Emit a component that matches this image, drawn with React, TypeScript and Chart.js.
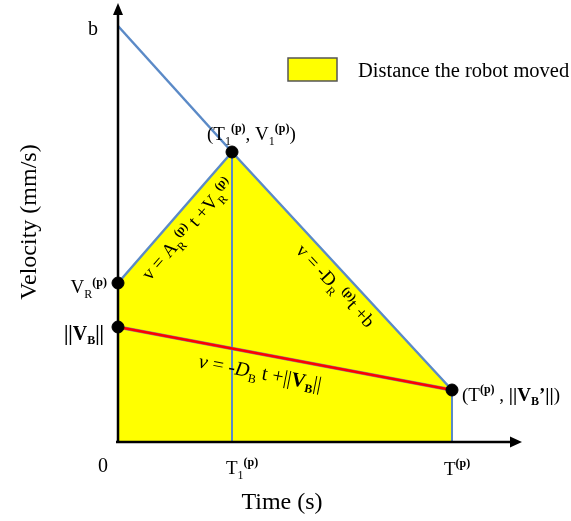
import React, { useEffect, useRef } from "react";
import { Chart, registerables } from "chart.js";

Chart.register(...registerables);

// Time values (arbitrary units)
const timeTicks = [0, 1.14, 3.34]; // 0, T1(p), T(p)
const timeMax = 4.04;
// Velocity values (arbitrary units)
const velB = 4.16; // b
const velV1 = 2.9; // V1(p)
const velVR = 1.59; // VR(p)
const velVB = 1.15; // ||VB||
const velVBEnd = 0.52; // ||VB'||
const velMax = 4.39;

const robotX = [timeTicks[0], timeTicks[1], timeTicks[2]];
const robotY = [velVR, velV1, velVBEnd];
const decelX = [timeTicks[0], timeTicks[1]];
const decelY = [velB, velV1];
const ballX = [timeTicks[0], timeTicks[2]];
const ballY = [velVB, velVBEnd];
const pointX = [timeTicks[1], timeTicks[0], timeTicks[0], timeTicks[2]];
const pointY = [velV1, velVR, velVB, velVBEnd];

const BLUE = "#5b8ac7";
const FONT = "'Liberation Serif', 'DejaVu Serif', serif";

type Seg = { t: string; size: number; bold?: boolean; italic?: boolean; dy?: number };

function segFont(s: Seg) {
  return `${s.italic ? "italic " : ""}${s.bold ? "bold " : ""}${s.size}px ${FONT}`;
}

function richWidth(ctx: CanvasRenderingContext2D, segs: Seg[]) {
  let w = 0;
  for (const s of segs) {
    ctx.font = segFont(s);
    w += ctx.measureText(s.t).width;
  }
  return w;
}

function drawRich(
  ctx: CanvasRenderingContext2D,
  segs: Seg[],
  x: number,
  y: number,
  align: "left" | "center" | "right" = "left",
  angle = 0
) {
  ctx.save();
  ctx.translate(x, y);
  ctx.rotate(angle);
  ctx.fillStyle = "#000";
  ctx.textBaseline = "alphabetic";
  ctx.textAlign = "left";
  const w = richWidth(ctx, segs);
  let cx = align === "left" ? 0 : align === "center" ? -w / 2 : -w;
  for (const s of segs) {
    ctx.font = segFont(s);
    ctx.fillText(s.t, cx, s.dy || 0);
    cx += ctx.measureText(s.t).width;
  }
  ctx.restore();
}

const M = 19;
const SUB = 12;
const SUP = 12;

const annotPlugin = {
  id: "annot",
  afterDatasetsDraw(chart: any) {
    const ctx: CanvasRenderingContext2D = chart.ctx;
    const xs = chart.scales.x;
    const ys = chart.scales.y;
    const px = (v: number) => xs.getPixelForValue(v);
    const py = (v: number) => ys.getPixelForValue(v);
    const x0 = px(0);
    const y0 = py(0);

    // axes with arrows
    ctx.save();
    ctx.strokeStyle = "#000";
    ctx.fillStyle = "#000";
    ctx.lineWidth = 2.5;
    ctx.beginPath();
    ctx.moveTo(x0, y0 + 1);
    ctx.lineTo(x0, py(velMax) + 10);
    ctx.stroke();
    ctx.beginPath();
    ctx.moveTo(x0 - 2, y0);
    ctx.lineTo(px(timeMax) - 10, y0);
    ctx.stroke();
    ctx.beginPath();
    ctx.moveTo(x0, py(velMax));
    ctx.lineTo(x0 - 5, py(velMax) + 12);
    ctx.lineTo(x0 + 5, py(velMax) + 12);
    ctx.closePath();
    ctx.fill();
    ctx.beginPath();
    ctx.moveTo(px(timeMax), y0);
    ctx.lineTo(px(timeMax) - 12, y0 - 5.5);
    ctx.lineTo(px(timeMax) - 12, y0 + 5.5);
    ctx.closePath();
    ctx.fill();
    ctx.restore();

    // tick labels
    drawRich(ctx, [{ t: "0", size: 20 }], x0 - 15, y0 + 30, "center");
    drawRich(
      ctx,
      [
        { t: "T", size: M },
        { t: "1", size: SUB, dy: 5 },
        { t: "(p)", size: SUP, bold: true, dy: -8 },
      ],
      px(timeTicks[1]) - 6,
      y0 + 32
    );
    drawRich(
      ctx,
      [
        { t: "T", size: M },
        { t: "(p)", size: SUP, bold: true, dy: -8 },
      ],
      px(timeTicks[2]) - 8,
      y0 + 33
    );

    // axis titles
    drawRich(ctx, [{ t: "Time (s)", size: 24 }], 282, 509, "center");
    drawRich(ctx, [{ t: "Velocity (mm/s)", size: 24 }], 36, 222, "center", -Math.PI / 2);

    // y-value labels
    drawRich(ctx, [{ t: "b", size: 20 }], x0 - 25, py(velB) + 9, "center");
    drawRich(
      ctx,
      [
        { t: "V", size: M },
        { t: "R", size: SUB, dy: 5 },
        { t: "(p)", size: SUP, bold: true, dy: -7 },
      ],
      x0 - 11,
      py(velVR) + 10,
      "right"
    );
    drawRich(
      ctx,
      [
        { t: "||V", size: 20, bold: true },
        { t: "B", size: SUB, bold: true, dy: 4 },
        { t: "||", size: 20, bold: true },
      ],
      x0 - 14,
      py(velVB) + 13,
      "right"
    );

    // point labels
    drawRich(
      ctx,
      [
        { t: "(T", size: M },
        { t: "1", size: SUB, dy: 5 },
        { t: "(p)", size: SUP, bold: true, dy: -8 },
        { t: ", V", size: M },
        { t: "1", size: SUB, dy: 5 },
        { t: "(p)", size: SUP, bold: true, dy: -8 },
        { t: ")", size: M },
      ],
      px(timeTicks[1]) - 25,
      py(velV1) - 12
    );
    drawRich(
      ctx,
      [
        { t: "(T", size: M },
        { t: "(p)", size: SUP, bold: true, dy: -8 },
        { t: " , ", size: M },
        { t: "||V", size: M, bold: true },
        { t: "B", size: SUB, bold: true, dy: 4 },
        { t: "’||", size: M, bold: true },
        { t: ")", size: M },
      ],
      px(timeTicks[2]) + 10,
      py(velVBEnd) + 11
    );

    // equations along lines
    drawRich(
      ctx,
      [
        { t: "v = A", size: M },
        { t: "R", size: SUB, dy: 5 },
        { t: "(p)", size: SUP, bold: true, dy: -7 },
        { t: " t +V", size: M },
        { t: "R", size: SUB, dy: 5 },
        { t: "(p)", size: SUP, bold: true, dy: -7 },
      ],
      192,
      233,
      "center",
      -0.852
    );
    drawRich(
      ctx,
      [
        { t: "v = -D", size: M },
        { t: "R", size: SUB, dy: 5 },
        { t: " (p)", size: SUP, bold: true, dy: -7 },
        { t: "t +b", size: M },
      ],
      331,
      290,
      "center",
      0.824
    );
    drawRich(
      ctx,
      [
        { t: "v", size: 20, italic: true },
        { t: " = -", size: 20 },
        { t: "D", size: 20, italic: true },
        { t: "B", size: SUB, dy: 5 },
        { t: " t +||", size: 20 },
        { t: "V", size: 20, bold: true },
        { t: "B", size: SUB, bold: true, dy: 4 },
        { t: "||", size: 20 },
      ],
      259,
      379,
      "center",
      0.19
    );

    // legend
    ctx.save();
    ctx.fillStyle = "#ffff00";
    ctx.strokeStyle = "#555";
    ctx.lineWidth = 1.5;
    ctx.fillRect(288, 58, 49, 23);
    ctx.strokeRect(288, 58, 49, 23);
    ctx.restore();
    drawRich(ctx, [{ t: "Distance the robot moved", size: 20.5 }], 358, 77);
  },
};

export default function App() {
  const ref = useRef<HTMLCanvasElement>(null);
  useEffect(() => {
    if (!ref.current) return;
    const pts = (xa: number[], ya: number[]) => xa.map((x, i) => ({ x, y: ya[i] }));
    const chart = new Chart(ref.current, {
      type: "scatter",
      data: {
        datasets: [
          {
            label: "points",
            data: pts(pointX, pointY),
            pointRadius: 6,
            pointBackgroundColor: "#000",
            pointBorderColor: "#000",
            showLine: false,
            clip: false,
            order: 0,
          } as any,
          {
            label: "ball",
            data: pts(ballX, ballY),
            showLine: true,
            borderColor: "#ff0000",
            borderWidth: 2.5,
            pointRadius: 0,
            clip: false,
            order: 1,
          },
          {
            label: "ballShadow",
            data: pts(ballX, ballY),
            showLine: true,
            borderColor: "#8a8a8a",
            borderWidth: 3.5,
            pointRadius: 0,
            clip: false,
            order: 2,
          },
          {
            label: "decel",
            data: pts(decelX, decelY),
            showLine: true,
            borderColor: BLUE,
            borderWidth: 2.5,
            pointRadius: 0,
            clip: false,
            order: 3,
          },
          {
            label: "t1",
            data: pts([timeTicks[1], timeTicks[1]], [0, velV1]),
            showLine: true,
            borderColor: BLUE,
            borderWidth: 2,
            pointRadius: 0,
            clip: false,
            order: 3,
          },
          {
            label: "t2",
            data: pts([timeTicks[2], timeTicks[2]], [0, velVBEnd]),
            showLine: true,
            borderColor: BLUE,
            borderWidth: 2,
            pointRadius: 0,
            clip: false,
            order: 3,
          },
          {
            label: "Distance the robot moved",
            data: pts(robotX, robotY),
            showLine: true,
            fill: "origin",
            backgroundColor: "#ffff00",
            borderColor: BLUE,
            borderWidth: 2.5,
            pointRadius: 0,
            clip: false,
            order: 4,
          },
        ],
      },
      options: {
        animation: false,
        responsive: false,
        layout: { autoPadding: false, padding: { left: 118, right: 49, top: 3, bottom: 79 } },
        scales: {
          x: { type: "linear", min: 0, max: timeMax, display: false },
          y: { type: "linear", min: 0, max: velMax, display: false },
        },
        plugins: { legend: { display: false }, tooltip: { enabled: false } },
      },
      plugins: [annotPlugin],
    });
    return () => chart.destroy();
  }, []);
  return (
    <div style={{ position: "fixed", left: 0, top: 0, width: 571, height: 521, background: "#fff" }}>
      <canvas ref={ref} width={571} height={521} style={{ width: 571, height: 521 }} />
    </div>
  );
}
